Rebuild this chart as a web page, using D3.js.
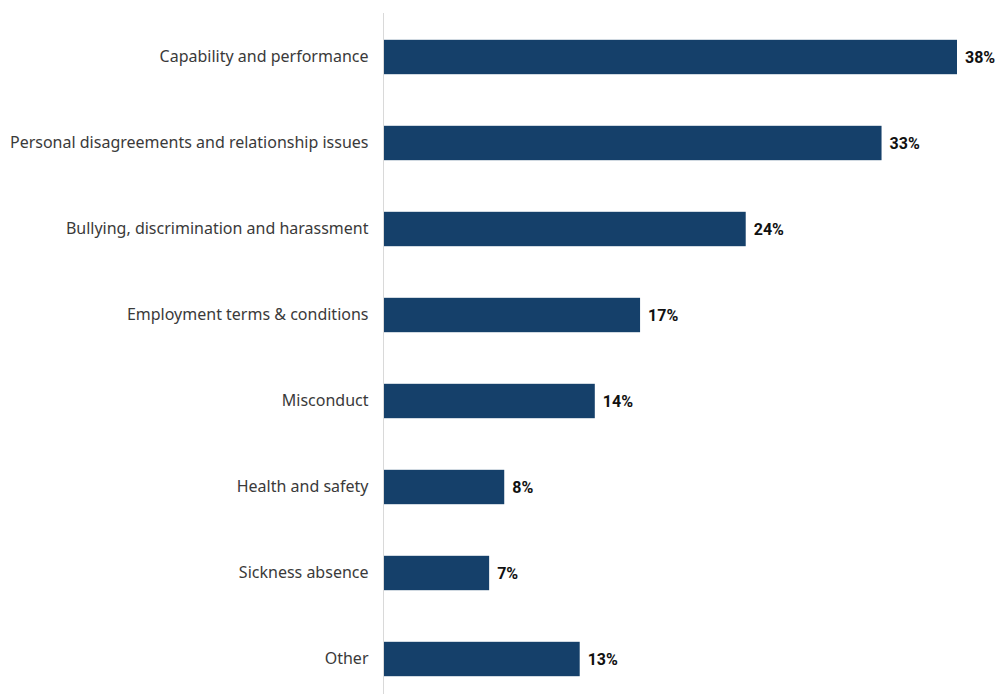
<!DOCTYPE html>
<html>
<head>
<meta charset="utf-8">
<script src="https://cdn.jsdelivr.net/npm/d3@7"></script>
<style>
  html, body { margin: 0; padding: 0; background: #fff; }
  svg { display: block; }
</style>
</head>
<body>
<svg id="chart" width="998" height="694"></svg>
<script>
// Reasons for workplace disputes (share of responses, %)
const categories = [
  "Capability and performance",
  "Personal disagreements and relationship issues",
  "Bullying, discrimination and harassment",
  "Employment terms & conditions",
  "Misconduct",
  "Health and safety",
  "Sickness absence",
  "Other"
];
const values = [38, 33, 24, 17, 14, 8, 7, 13];

const width = 998, height = 694;
const margin = { top: 14, right: 41, bottom: 0, left: 383.5 };

const svg = d3.select("#chart");

const x = d3.scaleLinear()
  .domain([0, 38])
  .range([margin.left, width - margin.right]);

const y = d3.scaleBand()
  .domain(categories)
  .range([margin.top, margin.top + 86 * categories.length])
  .paddingInner(0.6)
  .paddingOuter(0.3);

// bars
svg.append("g")
  .selectAll("rect")
  .data(values)
  .join("rect")
  .attr("x", x(0))
  .attr("y", (d, i) => y(categories[i]))
  .attr("width", d => x(d) - x(0))
  .attr("height", y.bandwidth())
  .attr("fill", "#15406a");

// category axis
const yAxis = d3.axisLeft(y).tickSize(0).tickPadding(15);
const gy = svg.append("g")
  .attr("transform", `translate(${margin.left},0)`)
  .call(yAxis);
gy.select(".domain").remove();
gy.append("line")
  .attr("x1", 0).attr("x2", 0)
  .attr("y1", 13).attr("y2", height)
  .attr("stroke", "#d9d9d9")
  .attr("stroke-width", 1);
gy.selectAll(".tick text")
  .attr("fill", "#3a3a3a")
  .style("font-family", "'Noto Sans', 'DejaVu Sans', sans-serif")
  .style("font-size", "16px");

// value labels
svg.append("g")
  .selectAll("text")
  .data(values)
  .join("text")
  .attr("x", d => x(d) + 8)
  .attr("y", (d, i) => y(categories[i]) + y.bandwidth() / 2)
  .attr("dy", "0.35em")
  .attr("fill", "#111")
  .style("font-family", "'Roboto', 'Noto Sans', sans-serif")
  .style("font-weight", "bold")
  .style("font-size", "16px")
  .text(d => d + "%");
</script>
</body>
</html>
